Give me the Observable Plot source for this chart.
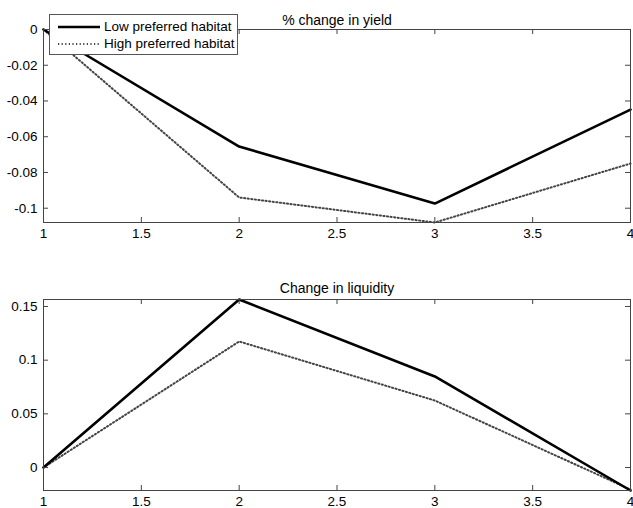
<!DOCTYPE html>
<html><head><meta charset="utf-8">
<script src="https://cdn.jsdelivr.net/npm/d3@7"></script>
<script src="https://cdn.jsdelivr.net/npm/@observablehq/plot@0.6"></script>
<style>
body{margin:0;background:#fff}
#wrap{position:relative;width:633px;height:508px;overflow:hidden;font-family:"Liberation Sans",Arial,sans-serif}
#top,#bottom{position:absolute;left:0}
#top{top:0}
#bottom{top:250px}
#legend{position:absolute;left:49px;top:14px;width:187px;height:39px;background:#fff;border:1px solid #555;font-size:13.5px;color:#000}
#legend .row{position:absolute;left:0;height:16px;line-height:16px;white-space:nowrap}
#legend svg{position:absolute;left:7px;top:0}
#legend span{position:absolute;left:54px;top:0}
</style>
</head><body><div id="wrap"><div id="top"></div><div id="bottom"></div><div id="legend"></div></div>
<script>
const periods = [1, 2, 3, 4];
const yieldLow = [0, -0.0655, -0.0974, -0.0448];
const yieldHigh = [0, -0.094, -0.108, -0.075];
const liqLow = [0, 0.1565, 0.0848, -0.0214];
const liqHigh = [0, 0.1174, 0.0624, -0.0205];
const xTicks = [1, 1.5, 2, 2.5, 3, 3.5, 4];
const yieldTicks = [0, -0.02, -0.04, -0.06, -0.08, -0.1];
const liqTicks = [0, 0.05, 0.1, 0.15];
const seriesNames = ["Low preferred habitat", "High preferred habitat"];
const titles = ["% change in yield", "Change in liquidity"];

const FONT = '"Liberation Sans", Arial, sans-serif';
const fmt = d => String(+d.toFixed(4));
const lowStyle = {stroke: "#000", strokeWidth: 2.6};
const highStyle = {stroke: "#444", strokeWidth: 2, strokeDasharray: "1.2,2.4"};

function panel({low, high, yTicks, yDomain, title, height, mt, mb, titleDy}) {
  const rows = periods.map((p, i) => ({x: p, low: low[i], high: high[i]}));
  const ph = height - mt - mb;
  const pw = 633 - 43 - 3;
  return Plot.plot({
    width: 633, height, marginLeft: 43, marginRight: 3, marginTop: mt, marginBottom: mb,
    style: {fontFamily: FONT, fontSize: "13.5px", color: "#000", background: "#fff", overflow: "visible"},
    x: {domain: [1, 4]},
    y: {domain: yDomain},
    marks: [
      Plot.line(rows, {x: "x", y: "high", ...highStyle}),
      Plot.line(rows, {x: "x", y: "low", ...lowStyle}),
      Plot.frame({stroke: "#444", strokeWidth: 1}),
      Plot.gridX(xTicks, {stroke: "#444", strokeOpacity: 1, insetTop: ph - 5}),
      Plot.gridX(xTicks, {stroke: "#444", strokeOpacity: 1, insetBottom: ph - 5}),
      Plot.gridY(yTicks, {stroke: "#444", strokeOpacity: 1, insetRight: pw - 5}),
      Plot.gridY(yTicks, {stroke: "#444", strokeOpacity: 1, insetLeft: pw - 5}),
      Plot.axisX(xTicks, {anchor: "bottom", tickSize: 0, tickPadding: 6, tickFormat: fmt, fill: "#000", fontSize: 13.5, label: null}),
      Plot.axisY(yTicks, {anchor: "left", tickSize: 0, tickPadding: 6, tickFormat: fmt, fill: "#000", fontSize: 13.5, label: null}),
      Plot.text([title], {frameAnchor: "top", dy: titleDy, fill: "#000", fontSize: 14})
    ]
  });
}

document.getElementById("top").append(panel({
  low: yieldLow, high: yieldHigh, yTicks: yieldTicks, yDomain: [-0.108, 0],
  title: titles[0], height: 250, mt: 29, mb: 28, titleDy: -14
}));
document.getElementById("bottom").append(panel({
  low: liqLow, high: liqHigh, yTicks: liqTicks, yDomain: [-0.0214, 0.1565],
  title: titles[1], height: 258, mt: 49, mb: 18, titleDy: -16
}));

const legend = document.getElementById("legend");
[lowStyle, highStyle].forEach((st, i) => {
  const row = document.createElement("div");
  row.className = "row";
  row.style.top = (4 + i * 17) + "px";
  row.style.width = "187px";
  row.innerHTML = `<svg width="44" height="16"><line x1="1" x2="43" y1="8" y2="8" stroke="${st.stroke}" stroke-width="${st.strokeWidth}" ${st.strokeDasharray ? `stroke-dasharray="${st.strokeDasharray}"` : ""}/></svg><span>${seriesNames[i]}</span>`;
  legend.append(row);
});
</script>
</body></html>
